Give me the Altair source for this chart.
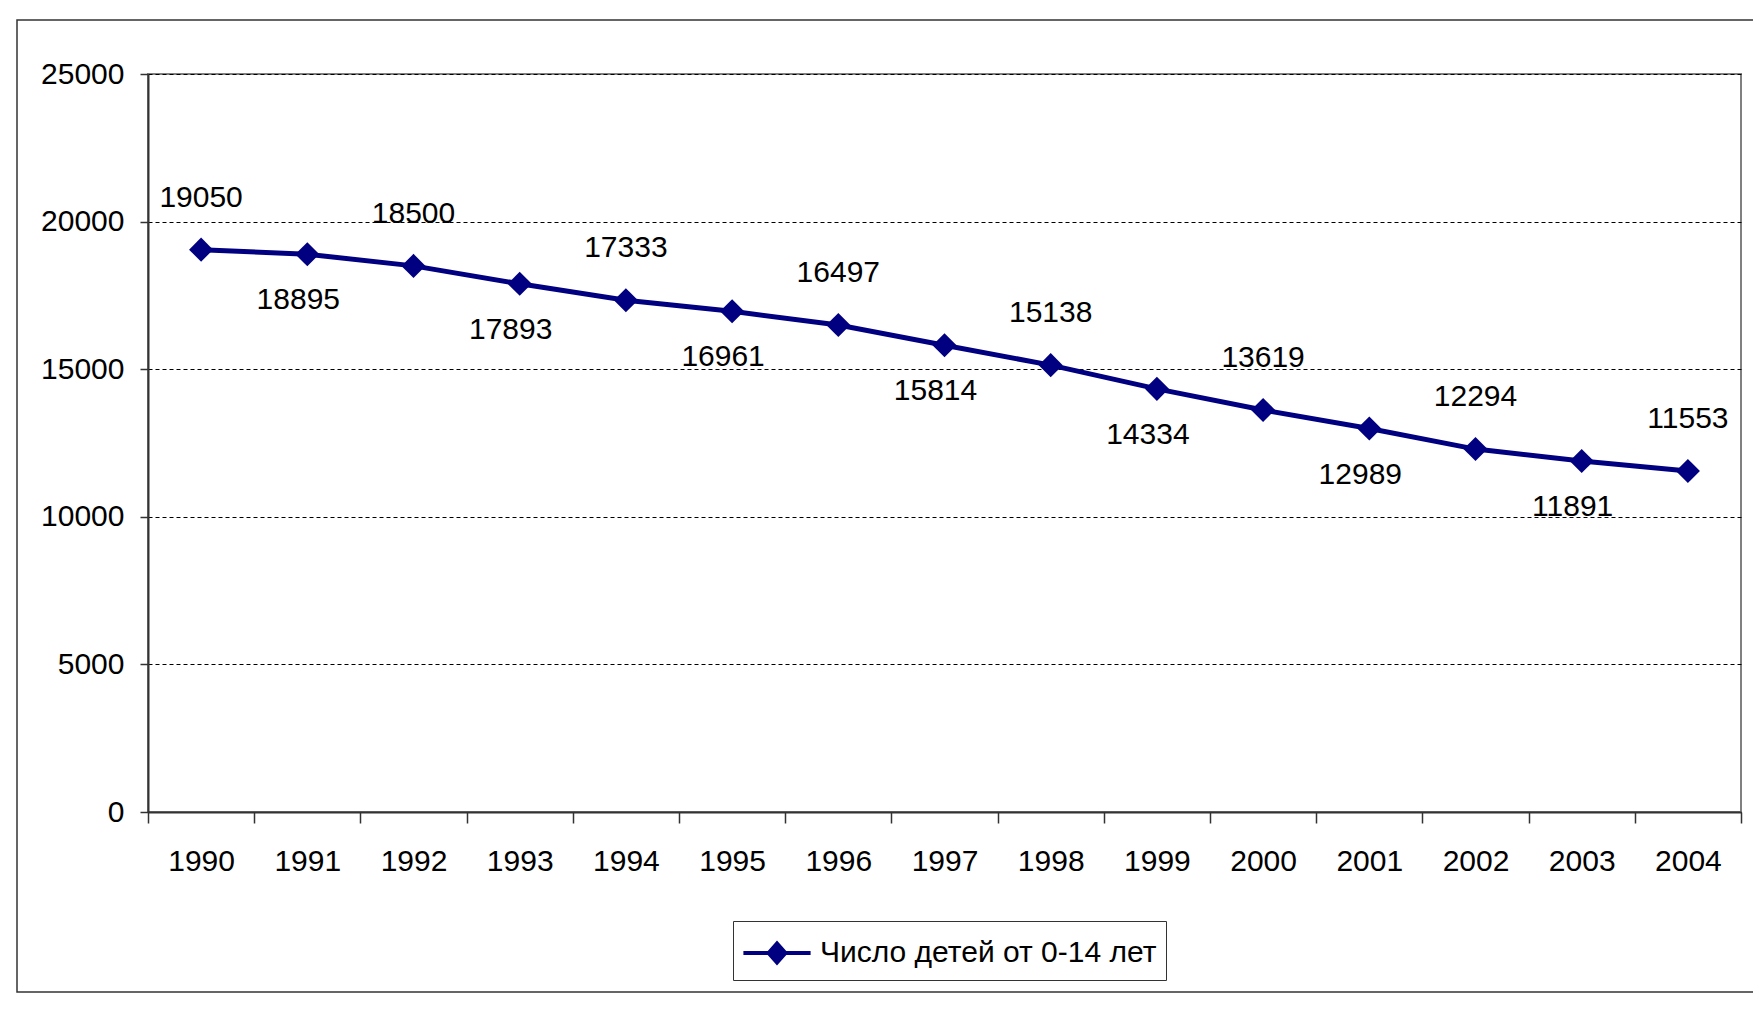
import altair as alt
import pandas as pd

years = ["1990", "1991", "1992", "1993", "1994", "1995", "1996", "1997",
         "1998", "1999", "2000", "2001", "2002", "2003", "2004"]
values = [19050, 18895, 18500, 17893, 17333, 16961, 16497, 15814,
          15138, 14334, 13619, 12989, 12294, 11891, 11553]
series_name = "Число детей от 0-14 лет"
y_ticks = [0, 5000, 10000, 15000, 20000, 25000]

df = pd.DataFrame({
    "year": years,
    "value": values,
    "series": [series_name] * len(years),
    "idx": list(range(len(years))),
})

FONT = "Liberation Sans, Arial, sans-serif"
FS = 30
NAVY = "#000080"

x = alt.X(
    "year:O",
    sort=None,
    bandPosition=0.5,
    scale=alt.Scale(type="band", paddingInner=0, paddingOuter=0),
    axis=alt.Axis(
        title=None, labelAngle=0, tickBand="extent", tickSize=11,
        labelPadding=23, labelFontSize=FS, labelFont=FONT, labelColor="black",
        domainColor="#333", domainWidth=2, tickColor="#333", tickWidth=1.5,
        grid=False,
    ),
)
y = alt.Y(
    "value:Q",
    scale=alt.Scale(domain=[0, 25000], nice=False),
    axis=alt.Axis(
        title=None, values=y_ticks, format="d", tickSize=8, labelPadding=16,
        labelFontSize=FS, labelFont=FONT, labelColor="black",
        domainColor="#333", domainWidth=2, tickColor="#333", tickWidth=1.5,
        grid=True, gridDash=[4, 3], gridColor="#000", gridWidth=1,
    ),
)

legend = alt.Legend(
    title=None, orient="none", legendX=585, legendY=847,
    symbolType="M-1.6,0L1.6,0M-0.4,0L0,-0.45L0.4,0L0,0.45Z",
    symbolSize=1764, symbolStrokeWidth=4, symbolOffset=12,
    symbolFillColor=NAVY, symbolStrokeColor=NAVY,
    labelFontSize=FS, labelFont=FONT, labelColor="black", labelLimit=1000,
    labelOffset=20, strokeColor="#333", fillColor="white", padding=9,
)
color = alt.Color("series:N", scale=alt.Scale(range=[NAVY]), legend=legend)

base = alt.Chart(df)

border = alt.Chart(pd.DataFrame({"a": [0]})).mark_rect(
    fill="transparent", stroke="#333", strokeWidth=1.5
).encode(
    x=alt.value(-131), x2=alt.value(1700), y=alt.value(-54), y2=alt.value(918)
)

line = base.mark_line(strokeWidth=5).encode(x=x, y=y, color=color)
points = base.mark_point(shape="diamond", filled=True, size=580, opacity=1).encode(
    x=x, y=y, color=color
)
labels_up = base.transform_filter("datum.idx % 2 == 0").mark_text(
    fontSize=FS, font=FONT, color="black", dy=-52
).encode(x=x, y=y, text="value:Q")
labels_down = base.transform_filter("datum.idx % 2 == 1").mark_text(
    fontSize=FS, font=FONT, color="black", dy=46, dx=-9
).encode(x=x, y=y, text="value:Q")

chart = alt.layer(border, line, points, labels_up, labels_down).properties(
    width=1593, height=738,
    autosize=alt.AutoSizeParams(type="none"),
    padding={"left": 140, "top": 66, "right": 12, "bottom": 186},
    background="white",
).configure_view(stroke="#808080", strokeWidth=2)

chart.save("out.html", embed_options={"renderer": "svg", "actions": False})
